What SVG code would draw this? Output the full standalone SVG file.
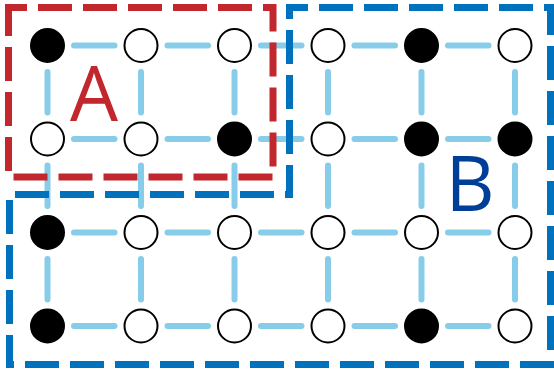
<svg xmlns="http://www.w3.org/2000/svg" width="554" height="376" viewBox="0 0 554 376">
<style>
.edge{stroke:#87CDEA;stroke-width:6;stroke-linecap:round;fill:none}
.node circle{stroke:#000;stroke-width:2}
.w{fill:#fff}
.b{fill:#000}
.box{fill:none;stroke-width:7;stroke-dasharray:34 11;stroke-dashoffset:15.5;stroke-linejoin:miter}
.lbl{font-family:"Open Sans","Liberation Sans",sans-serif;font-size:76px;text-anchor:middle}
</style>
<rect width="554" height="376" fill="#fff"/>
<g id="connectors">
<path class="edge" d="M74,45.5H114.5M167.5,45.5H208M261,45.5H301.5M354.5,45.5H395M448,45.5H488.5
M74,139H114.5M167.5,139H208M261,139H301.5M354.5,139H395M448,139H488.5
M74,232.5H114.5M167.5,232.5H208M261,232.5H301.5M354.5,232.5H395M448,232.5H488.5
M74,326H114.5M167.5,326H208M261,326H301.5M354.5,326H395M448,326H488.5
M47.5,72V112.5M141,72V112.5M234.5,72V112.5M328,72V112.5M421.5,72V112.5M515,72V112.5
M47.5,165.5V206M141,165.5V206M234.5,165.5V206M328,165.5V206M421.5,165.5V206M515,165.5V206
M47.5,259V299.5M141,259V299.5M234.5,259V299.5M328,259V299.5M421.5,259V299.5M515,259V299.5"/>
</g>
<g id="box-A">
<path class="box" stroke="#C1272D" d="M8.5,7.5H273V177H8.5Z"/>
<text class="lbl" x="94" y="121" fill="#C1272D">A</text>
</g>
<g id="box-B">
<path class="box" stroke="#0071BC" d="M289.5,7.5H550.5V364.5H9.5V194.5H289.5Z"/>
<text class="lbl" x="470" y="211" fill="#003F98">B</text>
</g>
<g id="n00" class="node"><circle class="b" cx="47.5" cy="45.5" r="16.5"/></g>
<g id="n01" class="node"><circle class="w" cx="141" cy="45.5" r="16.5"/></g>
<g id="n02" class="node"><circle class="w" cx="234.5" cy="45.5" r="16.5"/></g>
<g id="n03" class="node"><circle class="w" cx="328" cy="45.5" r="16.5"/></g>
<g id="n04" class="node"><circle class="b" cx="421.5" cy="45.5" r="16.5"/></g>
<g id="n05" class="node"><circle class="w" cx="515" cy="45.5" r="16.5"/></g>
<g id="n10" class="node"><circle class="w" cx="47.5" cy="139" r="16.5"/></g>
<g id="n11" class="node"><circle class="w" cx="141" cy="139" r="16.5"/></g>
<g id="n12" class="node"><circle class="b" cx="234.5" cy="139" r="16.5"/></g>
<g id="n13" class="node"><circle class="w" cx="328" cy="139" r="16.5"/></g>
<g id="n14" class="node"><circle class="b" cx="421.5" cy="139" r="16.5"/></g>
<g id="n15" class="node"><circle class="b" cx="515" cy="139" r="16.5"/></g>
<g id="n20" class="node"><circle class="b" cx="47.5" cy="232.5" r="16.5"/></g>
<g id="n21" class="node"><circle class="w" cx="141" cy="232.5" r="16.5"/></g>
<g id="n22" class="node"><circle class="w" cx="234.5" cy="232.5" r="16.5"/></g>
<g id="n23" class="node"><circle class="w" cx="328" cy="232.5" r="16.5"/></g>
<g id="n24" class="node"><circle class="w" cx="421.5" cy="232.5" r="16.5"/></g>
<g id="n25" class="node"><circle class="w" cx="515" cy="232.5" r="16.5"/></g>
<g id="n30" class="node"><circle class="b" cx="47.5" cy="326" r="16.5"/></g>
<g id="n31" class="node"><circle class="w" cx="141" cy="326" r="16.5"/></g>
<g id="n32" class="node"><circle class="w" cx="234.5" cy="326" r="16.5"/></g>
<g id="n33" class="node"><circle class="w" cx="328" cy="326" r="16.5"/></g>
<g id="n34" class="node"><circle class="b" cx="421.5" cy="326" r="16.5"/></g>
<g id="n35" class="node"><circle class="w" cx="515" cy="326" r="16.5"/></g>
</svg>
